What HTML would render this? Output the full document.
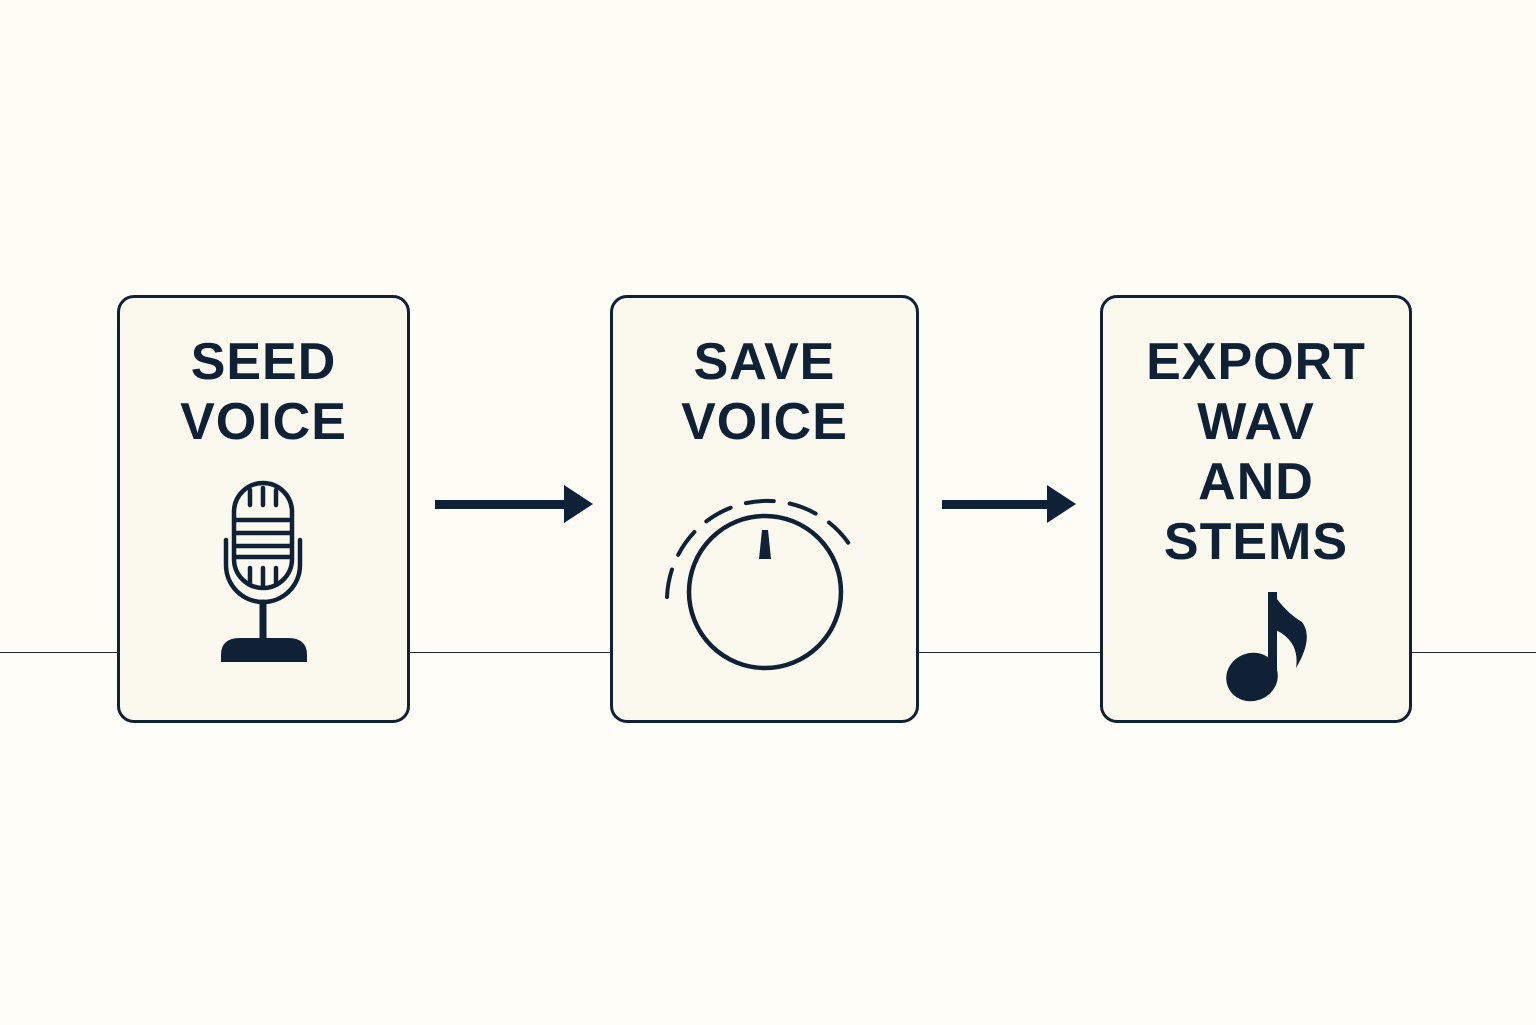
<!DOCTYPE html>
<html><head><style>
body{margin:0;width:1536px;height:1024px;background:#fdfcf5;position:relative;overflow:hidden;font-family:"Liberation Sans",sans-serif}
.lower{position:absolute;left:0;top:652px;width:1536px;height:372px;background:#fefdf8;border-top:1.5px solid #1a2a3a}
.box{position:absolute;top:295px;height:422px;border:3px solid #0f2137;border-radius:17px;background:#fbf9ee;box-sizing:content-box}
.t{position:absolute;left:0;right:0;top:332px;text-align:center;font-weight:bold;font-size:52px;line-height:60px;color:#0f2137;letter-spacing:1px}
</style></head><body>
<div class="lower"></div>
<div class="box" style="left:117px;width:287px"></div>
<div class="box" style="left:610px;width:303px"></div>
<div class="box" style="left:1100px;width:306px"></div>
<div class="t" style="left:117px;width:293px;right:auto">SEED<br>VOICE</div>
<div class="t" style="left:610px;width:309px;right:auto">SAVE<br>VOICE</div>
<div class="t" style="left:1100px;width:312px;right:auto">EXPORT<br>WAV<br>AND<br>STEMS</div>
<svg width="1536" height="1024" style="position:absolute;left:0;top:0">
<g fill="#0f2137">
<rect x="435" y="500" width="132" height="9"/><polygon points="564,485 593,504 564,523"/>
<rect x="942" y="500" width="108" height="9"/><polygon points="1047,485 1076,504 1047,523"/>
</g>
<g stroke="#0f2137" fill="none" stroke-width="4.5" stroke-linecap="round">
<rect x="234" y="483" width="58" height="105" rx="29"/>
<path d="M226 540 V565 A37 37 0 0 0 300 565 V540"/>
<path d="M250 490V505M263 488V505M276 490V505M250 568V583M263 568V585M276 568V583"/>
<path d="M236 520H290M236 533H290M236 546H290M236 557H290"/>
<path d="M263 603V640" stroke-width="7"/>
</g>
<path d="M221 662 V655 Q221 638 240 638 H288 Q307 638 307 655 V662Z" fill="#0f2137"/>
<g stroke="#0f2137" fill="none" stroke-linecap="round">
<circle cx="765" cy="592" r="76" stroke-width="4.5"/>
<path d="M667 597 A100 100 0 0 1 853 550" stroke-width="4" stroke-dasharray="28 16"/>
</g>
<polygon points="762,530 768,530 771,559 759,559" fill="#0f2137"/>
<g fill="#0f2137">
<ellipse cx="1252" cy="677" rx="26" ry="24" transform="rotate(-20 1252 677)"/>
<rect x="1268" y="592" width="9" height="88"/>
<path d="M1272 592 Q1285 612 1302 622 Q1314 638 1296 668 Q1300 642 1276 630Z"/>
</g>
</svg>
</body></html>
